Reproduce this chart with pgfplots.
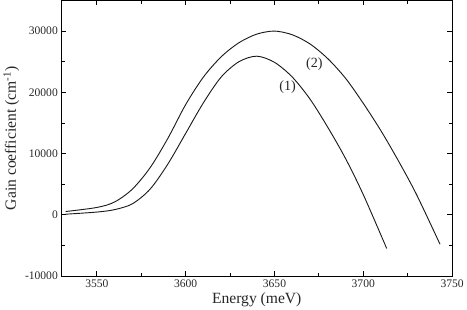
\documentclass[border=0pt]{standalone}
\usepackage{pgfplots}
\pgfplotsset{compat=1.18}
\usepackage{fontspec}
\setmainfont{Liberation Serif}
\begin{document}
\begin{tikzpicture}[x=1bp,y=1bp]
\begin{axis}[
  scale only axis,
  width=387bp, height=273bp,
  xmin=3530, xmax=3750,
  ymin=-10000, ymax=35000,
  xtick={3550,3600,3650,3700,3750},
  ytick={-10000,0,10000,20000,30000},
  minor x tick num=1,
  minor y tick num=1,
  tick align=inside,
  major tick length=5bp,
  minor tick length=3.5bp,
  tick style={line width=0.8bp, black},
  scaled ticks=false,
  /pgf/number format/1000 sep={},
  /pgf/number format/assume math mode=true,
  tick label style={font=\fontsize{11.5}{13}\selectfont, text=black!85},
  label style={font=\fontsize{15.5}{17}\selectfont, text=black!85},
  xlabel={Energy (meV)},
  ylabel={Gain coefficient (cm\textsuperscript{-1})},
  xlabel style={yshift=2bp},
  ylabel style={yshift=-1bp},
  axis line style={line width=0.9bp},
]
% curve (2)
\addplot[black!90, line width=0.9bp, smooth] coordinates {
  (3532.4,540) (3550,1200) (3560,2100) (3570,4200) (3580,7700) (3590,12500)
  (3600,18000) (3610,22500) (3620,25800) (3630,28100) (3640,29500) (3650,30000)
  (3660,29400) (3670,27900) (3680,25500) (3690,22300) (3700,18200) (3710,13700)
  (3720,8700) (3730,3300) (3743.2,-4800)
};
% curve (1)
\addplot[black!90, line width=0.9bp, smooth] coordinates {
  (3532.4,100) (3550,450) (3560,850) (3570,1800) (3580,4200) (3590,8300)
  (3600,13300) (3610,18300) (3620,22500) (3630,25000) (3640,25900) (3650,24900)
  (3660,22500) (3670,18900) (3680,14300) (3690,9200) (3700,3300) (3713.2,-5500)
};
\node[font=\fontsize{14}{16}\selectfont, text=black!85] at (axis cs:3672.5,24660) {(2)};
\node[font=\fontsize{14}{16}\selectfont, text=black!85] at (axis cs:3657.4,20830) {(1)};
\end{axis}
\end{tikzpicture}
\end{document}
